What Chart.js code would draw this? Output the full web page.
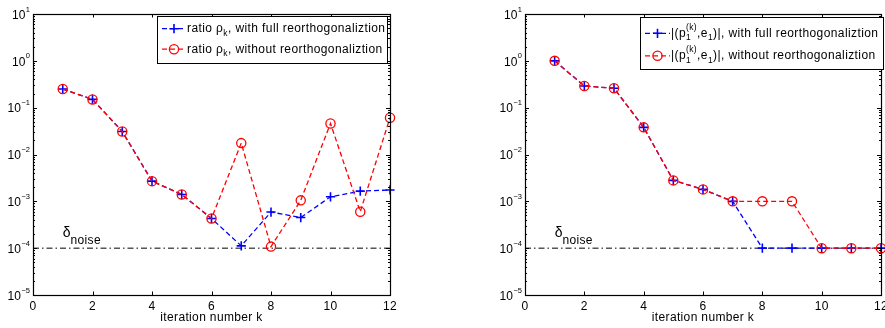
<!DOCTYPE html>
<html><head><meta charset="utf-8">
<script src="https://cdn.jsdelivr.net/npm/chart.js@4.4.0/dist/chart.umd.min.js"></script>
<style>
html,body{margin:0;padding:0;background:#fff;overflow:hidden;width:885px;height:328px}
.c{position:absolute;top:0}
</style></head><body>
<div class="c" style="left:0"><canvas id="c1" width="450" height="328"></canvas></div>
<div class="c" style="left:450px"><canvas id="c2" width="450" height="328"></canvas></div>
<script>
// ---------- data ----------
const iterations = [1, 2, 3, 4, 5, 6, 7, 8, 9, 10, 11, 12];
const ratioFull      = [0.25, 0.15, 0.031, 0.0027, 0.0014, 0.00043, 0.000112, 0.00059, 0.00045, 0.00125, 0.00165, 0.00175];
const ratioNoReorth  = [0.25, 0.15, 0.031, 0.0027, 0.0014, 0.00043, 0.0175, 0.000108, 0.00105, 0.046, 0.0006, 0.061];
const projFull       = [1.0, 0.29, 0.26, 0.038, 0.0028, 0.0018, 0.001, 0.0001, 0.0001, 0.0001, 0.0001, 0.0001];
const projNoReorth   = [1.0, 0.29, 0.26, 0.038, 0.0028, 0.0018, 0.001, 0.001, 0.001, 0.0001, 0.0001, 0.0001];
const deltaNoise = 1e-4;
const xTicks = [0, 2, 4, 6, 8, 10, 12];
const yTickExponents = [1, 0, -1, -2, -3, -4, -5];
const xTitle = 'iteration number k';
const legendLeft = [
  [['ratio ρ', 0], ['k', 1], [', with full reorthogonaliztion', 0]],
  [['ratio ρ', 0], ['k', 1], [', without reorthogonaliztion', 0]]
];
const legendRight = [
  [['|(p', 0], [['(k)', '1'], 3], [',e', 0], ['1', 1], [')|, with full reorthogonaliztion', 0]],
  [['|(p', 0], [['(k)', '1'], 3], [',e', 0], ['1', 1], [')|, without reorthogonaliztion', 0]]
];

const FAM = '"Liberation Sans", Arial, Helvetica, sans-serif';
const BLUE = '#0000ff', RED = '#ff0000';

function drawRuns(ctx, x, y, runs) {
  ctx.textBaseline = 'middle';
  ctx.textAlign = 'left';
  ctx.fillStyle = '#000';
  ctx.letterSpacing = '0.4px';
  for (const [t, kind] of runs) {
    if (kind === 0) {
      ctx.font = '12px ' + FAM; ctx.fillText(t, x, y); x += ctx.measureText(t).width;
    } else if (kind === 1) {
      ctx.font = '8.5px ' + FAM; ctx.fillText(t, x, y + 4.5); x += ctx.measureText(t).width;
    } else if (kind === 2) {
      ctx.font = '8.5px ' + FAM; ctx.fillText(t, x, y - 5); x += ctx.measureText(t).width;
    } else {
      ctx.font = '8.5px ' + FAM;
      ctx.fillText(t[0], x, y - 6); ctx.fillText(t[1], x, y + 4.5);
      x += Math.max(ctx.measureText(t[0]).width, ctx.measureText(t[1]).width);
    }
  }
}

const framePlugin = {
  id: 'frame',
  beforeDraw(chart) { chart.ctx.letterSpacing = '0.35px'; },
  afterDatasetsDraw(chart, args, opts) {
    const ctx = chart.ctx, a = chart.chartArea;
    const xs = chart.scales.x, ys = chart.scales.y;
    ctx.save();
    ctx.letterSpacing = '0px';
    // delta_noise label
    const dx = xs.getPixelForValue(1), dy = ys.getPixelForValue(deltaNoise);
    ctx.fillStyle = '#000';
    ctx.textBaseline = 'alphabetic'; ctx.textAlign = 'left';
    ctx.font = '14px ' + FAM; ctx.fillText('δ', dx, dy - 11);
    const dw = ctx.measureText('δ').width;
    ctx.letterSpacing = '0.35px';
    ctx.font = '12px ' + FAM; ctx.fillText('noise', dx + dw, dy - 4);
    ctx.letterSpacing = '0px';
    // frame
    ctx.strokeStyle = '#000'; ctx.lineWidth = 1.2;
    ctx.strokeRect(Math.round(a.left) + 0.5, Math.round(a.top) + 0.5, Math.round(a.right - a.left), Math.round(a.bottom - a.top));
    // ticks
    ctx.lineWidth = 1;
    ctx.beginPath();
    for (const v of xTicks) {
      const px = Math.round(xs.getPixelForValue(v)) + 0.5;
      ctx.moveTo(px, a.bottom); ctx.lineTo(px, a.bottom - 3.5);
      ctx.moveTo(px, a.top); ctx.lineTo(px, a.top + 3.5);
    }
    for (const e of yTickExponents) {
      for (let m = 1; m <= 9; m++) {
        const v = m * Math.pow(10, e);
        if (v > 10 * 1.0001 || v < 1e-5 * 0.9999) continue;
        const py = Math.round(ys.getPixelForValue(v)) + 0.5;
        const len = m === 1 ? 4 : 2;
        ctx.moveTo(a.left, py); ctx.lineTo(a.left + len, py);
        ctx.moveTo(a.right, py); ctx.lineTo(a.right - len, py);
      }
    }
    ctx.stroke();
    // y labels
    ctx.fillStyle = '#000';
    ctx.textBaseline = 'middle'; ctx.textAlign = 'left';
    for (const e of yTickExponents) {
      const py = ys.getPixelForValue(Math.pow(10, e));
      const exp = e < 0 ? '\u2212' + (-e) : String(e);
      ctx.font = '7.5px ' + FAM; const we = ctx.measureText(exp).width;
      ctx.font = '12px ' + FAM; const wb = ctx.measureText('10').width;
      const xr = a.left - 3;
      ctx.fillText('10', xr - we - wb - 0.5, py + 1.5);
      ctx.font = '7.5px ' + FAM; ctx.fillText(exp, xr - we, py - 4.5);
    }
    // legend
    const L = opts.legend;
    ctx.fillStyle = '#fff'; ctx.fillRect(L.x, L.y, L.w, L.h);
    ctx.strokeStyle = '#000'; ctx.lineWidth = 1;
    ctx.strokeRect(L.x + 0.5, L.y + 0.5, L.w, L.h);
    const styles = [
      { color: BLUE, style: 'cross', bw: 1.6 },
      { color: RED, style: 'circle', bw: 1.3 }
    ];
    L.items.forEach((runs, i) => {
      const y = L.rows[i];
      const s = styles[i];
      ctx.strokeStyle = s.color; ctx.lineWidth = 1.3;
      ctx.setLineDash([5, 3]);
      ctx.beginPath(); ctx.moveTo(L.sx0, y); ctx.lineTo(L.sx1, y); ctx.stroke();
      ctx.setLineDash([]);
      ctx.lineWidth = s.bw;
      ctx.fillStyle = 'rgba(0,0,0,0)';
      Chart.helpers.drawPoint(ctx, { pointStyle: s.style, radius: 4.6, rotation: 0, borderWidth: s.bw }, (L.sx0 + L.sx1) / 2, y);
      drawRuns(ctx, L.tx, y, runs);
      ctx.letterSpacing = '0px';
    });
    ctx.restore();
  }
};

function makeChart(id, full, noReorth, yw, padRight, legend) {
  const pts = arr => iterations.map((k, i) => ({ x: k, y: arr[i] }));
  return new Chart(document.getElementById(id), {
    type: 'line',
    data: {
      datasets: [
        { data: [{ x: 0, y: deltaNoise }, { x: 12, y: deltaNoise }], borderColor: '#000', borderWidth: 1,
          borderDash: [6, 3, 1.5, 3], pointRadius: 0, order: 3, fill: false },
        { data: pts(full), borderColor: BLUE, borderWidth: 1.3, borderDash: [5, 3], pointStyle: 'cross',
          pointRadius: 4.6, pointBorderWidth: 1.6, pointBorderColor: BLUE, pointBackgroundColor: 'rgba(0,0,0,0)',
          order: 2, fill: false, tension: 0, clip: false },
        { data: pts(noReorth), borderColor: RED, borderWidth: 1.3, borderDash: [5, 3], pointStyle: 'circle',
          pointRadius: 4.6, pointBorderWidth: 1.3, pointBorderColor: RED, pointBackgroundColor: 'rgba(0,0,0,0)',
          order: 1, fill: false, tension: 0, clip: false }
      ]
    },
    options: {
      responsive: false, animation: false, events: [],
      layout: { padding: { left: 0, top: 14, right: padRight, bottom: 0 } },
      plugins: { legend: { display: false }, tooltip: { enabled: false }, frame: { legend } },
      scales: {
        x: {
          type: 'linear', min: 0, max: 12,
          afterBuildTicks: s => { s.ticks = xTicks.map(v => ({ value: v })); },
          ticks: { font: { family: FAM, size: 12 }, color: '#000', padding: 4, maxRotation: 0, autoSkip: false,
                   callback: v => String(v) },
          grid: { display: false, drawTicks: false }, border: { display: false },
          title: { display: true, text: xTitle, font: { family: FAM, size: 12 }, color: '#000', padding: { top: 0, bottom: 3 } },
          afterFit: s => { s.height = 33; s.paddingLeft = 0; s.paddingRight = 0; }
        },
        y: {
          type: 'logarithmic', min: 1e-5, max: 10,
          ticks: { display: false },
          grid: { display: false, drawTicks: false }, border: { display: false },
          afterFit: s => { s.width = yw; s.paddingTop = 0; s.paddingBottom = 0; }
        }
      }
    },
    plugins: [framePlugin]
  });
}

makeChart('c1', ratioFull, ratioNoReorth, 33, 60,
  { x: 157, y: 16, w: 230, h: 47, rows: [28.7, 49.2], sx0: 162, sx1: 186, tx: 187, items: legendLeft });
makeChart('c2', projFull, projNoReorth, 75, 19,
  { x: 190, y: 17, w: 243, h: 52, rows: [33.3, 55.8], sx0: 195, sx1: 220, tx: 221, items: legendRight });
</script>
</body></html>
